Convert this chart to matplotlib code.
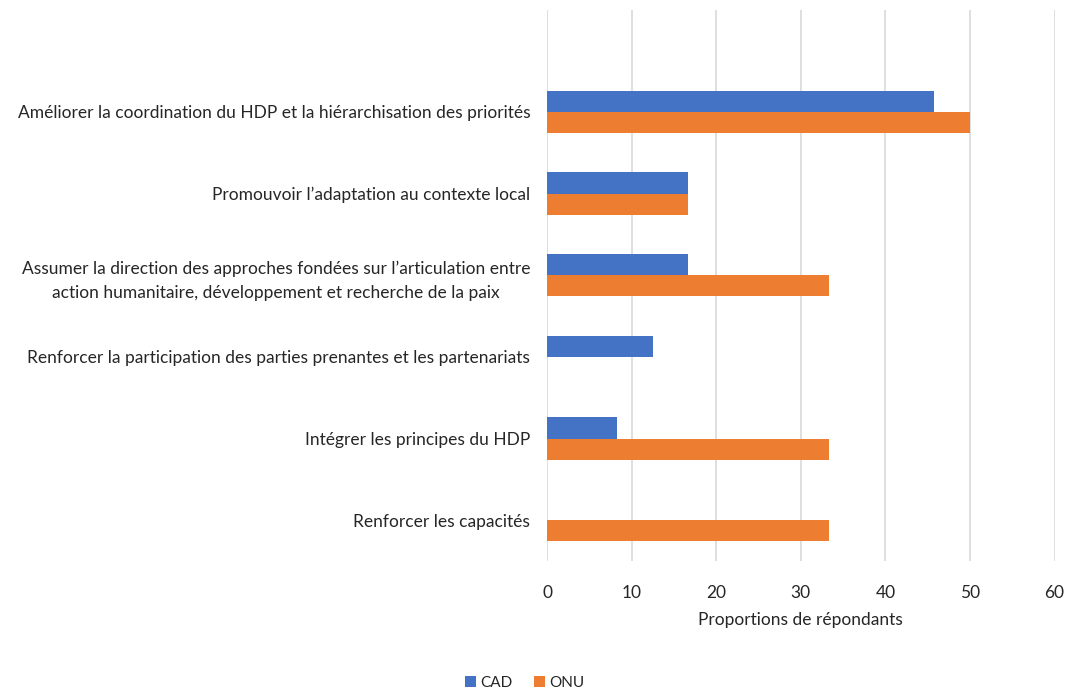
import numpy as np
import matplotlib
matplotlib.use('Agg')
import matplotlib.pyplot as plt

plt.rcParams['font.family'] = ['Lato', 'DejaVu Sans']

# Data
categories = [
    "Améliorer la coordination du HDP et la hiérarchisation des priorités",
    "Promouvoir l’adaptation au contexte local",
    "Assumer la direction des approches fondées sur l’articulation entre\naction humanitaire, développement et recherche de la paix",
    "Renforcer la participation des parties prenantes et les partenariats",
    "Intégrer les principes du HDP",
    "Renforcer les capacités",
]
cad = [45.8, 16.7, 16.7, 12.5, 8.3, 0]
onu = [50.0, 16.7, 33.3, 0, 33.3, 33.3]
series_names = ['CAD', 'ONU']
x_ticks = [0, 10, 20, 30, 40, 50, 60]

blue = '#4472C4'
orange = '#ED7D31'
txt = '#262626'

fig = plt.figure(figsize=(10.68, 6.95), dpi=100)
ax = fig.add_axes([0.5122, 0.1928, 0.4752, 0.7928])

y = np.arange(len(categories))
h = 0.261
ax.barh(y - h / 2, cad, height=h, color=blue, label=series_names[0], zorder=3)
ax.barh(y + h / 2, onu, height=h, color=orange, label=series_names[1], zorder=3)

ax.set_ylim(len(categories) - 0.5, -1.247)
ax.set_xlim(0, 60)
ax.set_xticks(x_ticks)
ax.set_yticks(y)
ax.set_yticklabels(categories, multialignment='center', linespacing=1.6)
ax.tick_params(axis='both', length=0, labelsize=12.5, colors=txt)
ax.tick_params(axis='y', pad=12)
ax.tick_params(axis='x', pad=17)
ax.xaxis.grid(True, color='#D9D9D9', linewidth=1.2, zorder=0)
for s in ax.spines.values():
    s.set_visible(False)

ax.set_xlabel('Proportions de répondants', fontsize=12.5, color=txt, labelpad=8)

handles, labels = ax.get_legend_handles_labels()
fig.legend(handles, labels, loc='center', bbox_to_anchor=(0.4916, 1 - 683 / 695),
           ncol=2, frameon=False, fontsize=11, handlelength=0.7, handleheight=0.7,
           handletextpad=0.3, columnspacing=1.4, labelcolor=txt)

fig.savefig('out.png', dpi=100)
